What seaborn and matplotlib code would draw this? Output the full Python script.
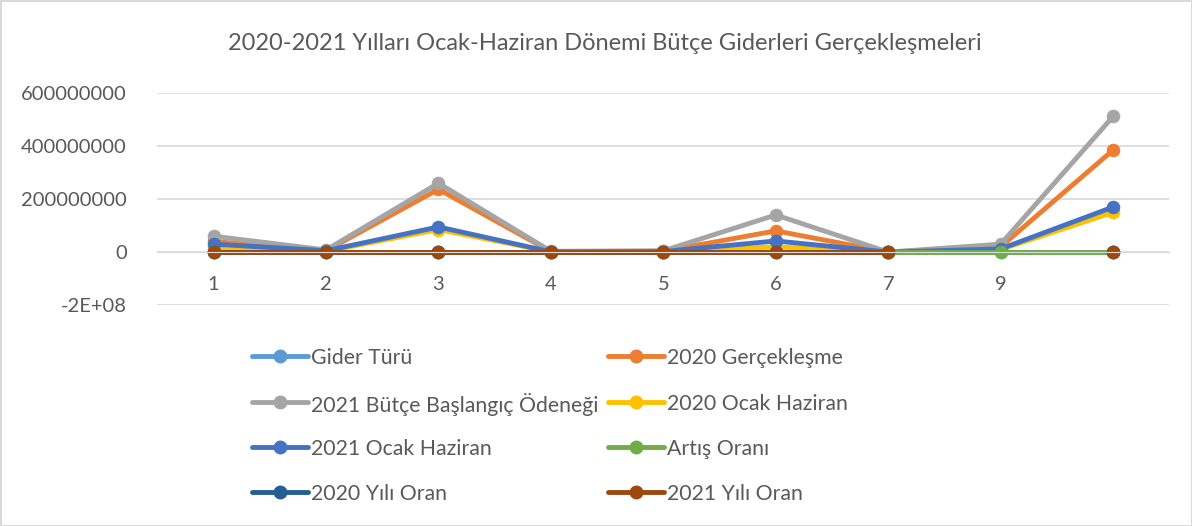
import numpy as np
import pandas as pd
import matplotlib
matplotlib.use("Agg")
import matplotlib.pyplot as plt
from matplotlib.lines import Line2D
import seaborn as sns

# category labels on the x axis (last one blank, as in the source sheet)
categories = ["1", "2", "3", "4", "5", "6", "7", "9", ""]

# series values (NaN = no value)
gider_turu = [0, 0, 0, 0, 0, 0, 0, 0, 0]
gerceklesme_2020 = [40e6, 5e6, 237e6, 2e6, 3e6, 80e6, 0, 20e6, 385e6]
butce_2021 = [60e6, 8e6, 260e6, 3e6, 5e6, 140e6, 0, 30e6, 512e6]
ocak_haziran_2020 = [15e6, 3e6, 85e6, 1e6, 2e6, 20e6, 0, 10e6, 150e6]
ocak_haziran_2021 = [30e6, 5e6, 95e6, 1e6, 2e6, 42e6, 0, 12e6, 170e6]
artis_orani = [0.3, 0.2, 0.4, 0.1, 0.2, 0.5, 0, 0.3, 0.4]
oran_2020 = [0.02, 0.01, 0.05, 0.0, 0.0, 0.01, 0, np.nan, 1.0]
oran_2021 = [0.02, 0.01, 0.05, 0.0, 0.0, 0.01, 0, np.nan, 1.0]

series = {
    "Gider Türü": gider_turu,
    "2020 Gerçekleşme": gerceklesme_2020,
    "2021 Bütçe Başlangıç Ödeneği": butce_2021,
    "2020 Ocak Haziran": ocak_haziran_2020,
    "2021 Ocak Haziran": ocak_haziran_2021,
    "Artış Oranı": artis_orani,
    "2020 Yılı Oran": oran_2020,
    "2021 Yılı Oran": oran_2021,
}
colors = ["#5B9BD5", "#ED7D31", "#A5A5A5", "#FFC000",
          "#4472C4", "#70AD47", "#255E91", "#9E480E"]

# long table; a new segment starts after each missing value so lines break there
rows = []
for name, vals in series.items():
    seg = 0
    for i, v in enumerate(vals):
        if pd.isna(v):
            seg += 1
            continue
        rows.append(dict(series=name, x=i, value=v, seg=seg))
df = pd.DataFrame(rows)

sns.set_style("white")
plt.rcParams["font.family"] = ["Lato", "DejaVu Sans"]
txt = "#595959"
W, H = 1192, 526

fig = plt.figure(figsize=(W / 100, H / 100), dpi=100)
fig.patch.set_edgecolor("#d9d9d9")
fig.patch.set_linewidth(2)
ax = fig.add_axes([0.132, 0.420, 0.849, 0.403])

for (name, vals), c in zip(series.items(), colors):
    sub = df[df.series == name]
    sns.lineplot(data=sub, x="x", y="value", units="seg", estimator=None,
                 color=c, lw=3.5, marker="o", markersize=9,
                 markeredgecolor=c, ax=ax, legend=False)

ax.set_xlim(-0.5, len(categories) - 0.5)
ax.set_ylim(-2e8, 6e8)
ax.set_yticks([-2e8, 0, 2e8, 4e8, 6e8])
ax.set_yticklabels(["-2E+08", "0", "200000000", "400000000", "600000000"])
ax.set_xticks(range(len(categories)))
ax.set_xticklabels(categories)
ax.grid(axis="y", color="#d9d9d9", lw=1.2)
ax.set_axisbelow(True)
for s in ["top", "right", "left"]:
    ax.spines[s].set_visible(False)
ax.spines["bottom"].set_position(("data", 0))
ax.spines["bottom"].set_color("#d9d9d9")
ax.tick_params(axis="both", length=0, labelsize=14.5, colors=txt)
ax.tick_params(axis="x", pad=17)
ax.tick_params(axis="y", pad=22)
ax.set_xlabel("")
ax.set_ylabel("")

fig.text(605 / W, 1 - 44 / H,
         "2020-2021 Yılları Ocak-Haziran Dönemi Bütçe Giderleri Gerçekleşmeleri",
         ha="center", va="center", fontsize=17, color=txt)

# legend laid out like Excel: two columns, four rows, same row heights
order = ["Gider Türü", "2021 Bütçe Başlangıç Ödeneği", "2021 Ocak Haziran", "2020 Yılı Oran",
         "2020 Gerçekleşme", "2020 Ocak Haziran", "Artış Oranı", "2021 Yılı Oran"]
col_x = [252, 608]
row_y = [356, 402, 447, 492]
cmap = dict(zip(series.keys(), colors))
for k, name in enumerate(order):
    x0 = col_x[k // 4]
    y0 = 1 - row_y[k % 4] / H
    c = cmap[name]
    fig.add_artist(Line2D([x0 / W, (x0 + 56) / W], [y0, y0], color=c, lw=3.5,
                          transform=fig.transFigure))
    fig.add_artist(Line2D([(x0 + 28) / W], [y0], color=c, marker="o",
                          markersize=9, transform=fig.transFigure))
    fig.text((x0 + 59) / W, y0, name, ha="left", va="center_baseline",
             fontsize=15.3, color=txt)

fig.savefig("out.png", dpi=100)
